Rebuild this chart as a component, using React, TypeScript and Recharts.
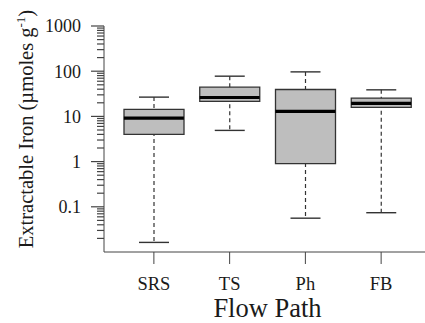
import React from 'react';
import { ComposedChart, Bar, Scatter, XAxis, YAxis } from 'recharts';

const categories = ['SRS', 'TS', 'Ph', 'FB'];
const whiskerLow = [0.0163, 4.9, 0.056, 0.074];
const lowerQuartile = [4.0, 21.4, 0.9, 15.8];
const median = [9.2, 26.2, 12.9, 19.4];
const upperQuartile = [14.3, 44.4, 39.4, 25.4];
const whiskerHigh = [26.7, 77.6, 96.6, 38.7];

const majorTicks = [0.1, 1, 10, 100, 1000];
const decades = [0.01, 0.1, 1, 10, 100];
const minorTicks = decades.flatMap((d) => [2, 3, 4, 5, 6, 7, 8, 9].map((m) => m * d));
const yTicks = [...minorTicks, ...majorTicks];

const data = categories.map((name, i) => ({
  name,
  whisker: [whiskerLow[i], whiskerHigh[i]],
  box: [lowerQuartile[i], upperQuartile[i]],
  median: median[i],
}));

const FONT = '"Liberation Serif", "Times New Roman", serif';
const AXIS = '#444';

const YTick = (props: any) => {
  const { x, y, payload } = props;
  const major = majorTicks.includes(payload.value);
  return (
    <g>
      <line x1={x - (major ? 13 : 7)} x2={x} y1={y} y2={y} stroke={AXIS} strokeWidth={1.2} />
      {major && (
        <text x={x - 23} y={y} dy="0.35em" textAnchor="end" fontSize={18} fontFamily={FONT} fill="#1a1a1a">
          {String(payload.value)}
        </text>
      )}
    </g>
  );
};

const YLabel = (props: any) => {
  const { viewBox } = props;
  const cx = 33;
  const cy = viewBox.y + viewBox.height / 2 - 10;
  return (
    <text
      x={cx}
      y={cy}
      transform={`rotate(-90, ${cx}, ${cy})`}
      textAnchor="middle"
      fontSize={20.5}
      fontFamily={FONT}
      fill="#1a1a1a"
    >
      Extractable Iron (µmoles g
      <tspan fontSize={13} dy={-8}>-1</tspan>
      <tspan dy={8}>)</tspan>
    </text>
  );
};

const WhiskerShape = (props: any) => {
  const { x, y, width, height } = props;
  const cx = x + width / 2;
  return (
    <g>
      <line x1={cx} x2={cx} y1={y} y2={y + height} stroke="#333" strokeWidth={1.2} strokeDasharray="4 3" />
      <line x1={x} x2={x + width} y1={y} y2={y} stroke="#333" strokeWidth={1.4} />
      <line x1={x} x2={x + width} y1={y + height} y2={y + height} stroke="#333" strokeWidth={1.4} />
    </g>
  );
};

const MedianShape = (props: any) => {
  const { cx, cy } = props;
  return <line x1={cx - 30} x2={cx + 30} y1={cy} y2={cy} stroke="#000" strokeWidth={3.2} />;
};

export default function App() {
  return (
    <div style={{ position: 'absolute', left: 0, top: 0, width: 425, height: 323, overflow: 'hidden', background: '#fff' }}>
      <ComposedChart width={431} height={323} data={data} margin={{ top: 26, right: 0, bottom: 0, left: 0 }}>
        <XAxis
          dataKey="name"
          height={71}
          padding={{ left: 12, right: 12 }}
          tickSize={12}
          tickMargin={13}
          stroke={AXIS}
          tick={{ fontSize: 18.5, fontFamily: FONT, fill: '#1a1a1a' }}
          label={{ value: 'Flow Path', position: 'insideBottom', offset: 6, fontSize: 26.5, fontFamily: FONT, fill: '#1a1a1a' }}
        />
        <XAxis xAxisId="w" dataKey="name" hide padding={{ left: 12, right: 12 }} />
        <XAxis xAxisId="top" orientation="top" height={0} tick={false} tickLine={false} stroke={AXIS} />
        <YAxis
          type="number"
          scale="log"
          domain={[0.01, 1000]}
          allowDataOverflow
          ticks={yTicks}
          interval={0}
          width={104}
          tickLine={false}
          tickSize={0}
          tickMargin={0}
          tick={<YTick />}
          stroke={AXIS}
          label={<YLabel />}
        />
        <Bar xAxisId="w" dataKey="whisker" barSize={30} shape={<WhiskerShape />} isAnimationActive={false} />
        <Bar dataKey="box" barSize={60} fill="#bebebe" stroke="#333" strokeWidth={1.3} isAnimationActive={false} />
        <Scatter dataKey="median" shape={<MedianShape />} isAnimationActive={false} />
      </ComposedChart>
    </div>
  );
}
